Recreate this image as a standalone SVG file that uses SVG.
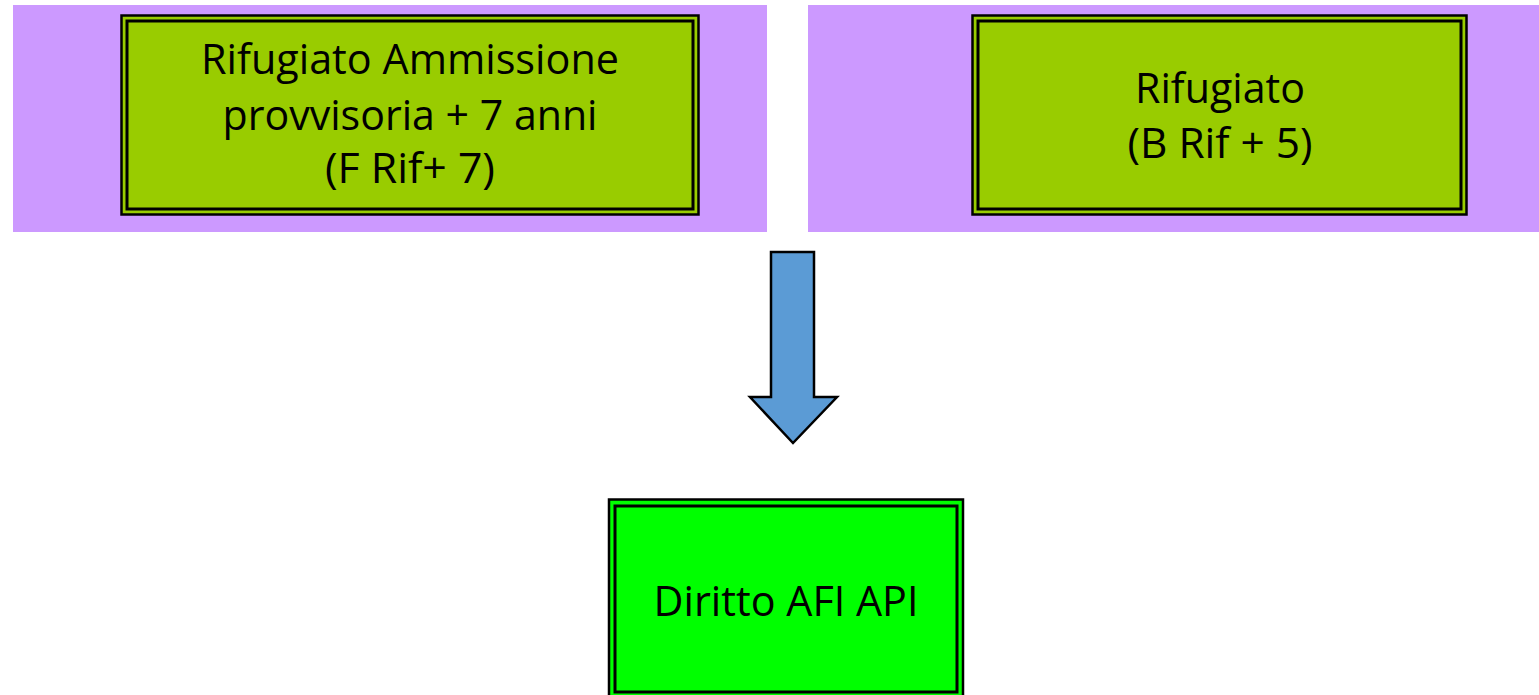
<svg xmlns="http://www.w3.org/2000/svg" width="1539" height="695" viewBox="0 0 1539 695">
<style>
.bg{fill:#CC99FF}
.o{stroke:#000;stroke-width:2.5}
.i{fill:none;stroke:#000;stroke-width:3}
.t{font-family:"Open Sans","Liberation Sans",sans-serif;font-size:42px;fill:#000;text-anchor:middle}
</style>
<rect width="1539" height="695" fill="#fff"/>
<g id="bgLeft"><rect class="bg" x="13" y="5" width="754" height="227"/></g>
<g id="bgRight"><rect class="bg" x="808" y="5" width="731" height="227"/></g>
<g id="nodeLeft">
<rect class="o" x="121.5" y="15.5" width="577" height="199" fill="#99CC00"/>
<rect class="i" x="127" y="21" width="566" height="188"/>
<text class="t" x="410" y="74" textLength="418" lengthAdjust="spacingAndGlyphs">Rifugiato Ammissione</text>
<text class="t" x="410" y="130" textLength="375" lengthAdjust="spacingAndGlyphs">provvisoria + 7 anni</text>
<text class="t" x="410" y="183" textLength="170" lengthAdjust="spacingAndGlyphs">(F Rif+ 7)</text>
</g>
<g id="nodeRight">
<rect class="o" x="972.5" y="15.5" width="494" height="199" fill="#99CC00"/>
<rect class="i" x="978" y="21" width="483" height="188"/>
<text class="t" x="1220" y="103" textLength="170" lengthAdjust="spacingAndGlyphs">Rifugiato</text>
<text class="t" x="1220" y="158" textLength="185" lengthAdjust="spacingAndGlyphs">(B Rif + 5)</text>
</g>
<g id="connectors">
<path d="M771,252 H814 V397 H837 L793,443 L750,397 H771 Z" fill="#5B9BD5" stroke="#000" stroke-width="2.5" stroke-linejoin="miter"/>
</g>
<g id="nodeBottom">
<rect class="o" x="609" y="499.5" width="354" height="210" fill="#00FF00" stroke="#444"/>
<rect class="i" x="615" y="506" width="342" height="186"/>
<text class="t" x="786" y="616" textLength="265" lengthAdjust="spacingAndGlyphs">Diritto AFI API</text>
</g>
</svg>
